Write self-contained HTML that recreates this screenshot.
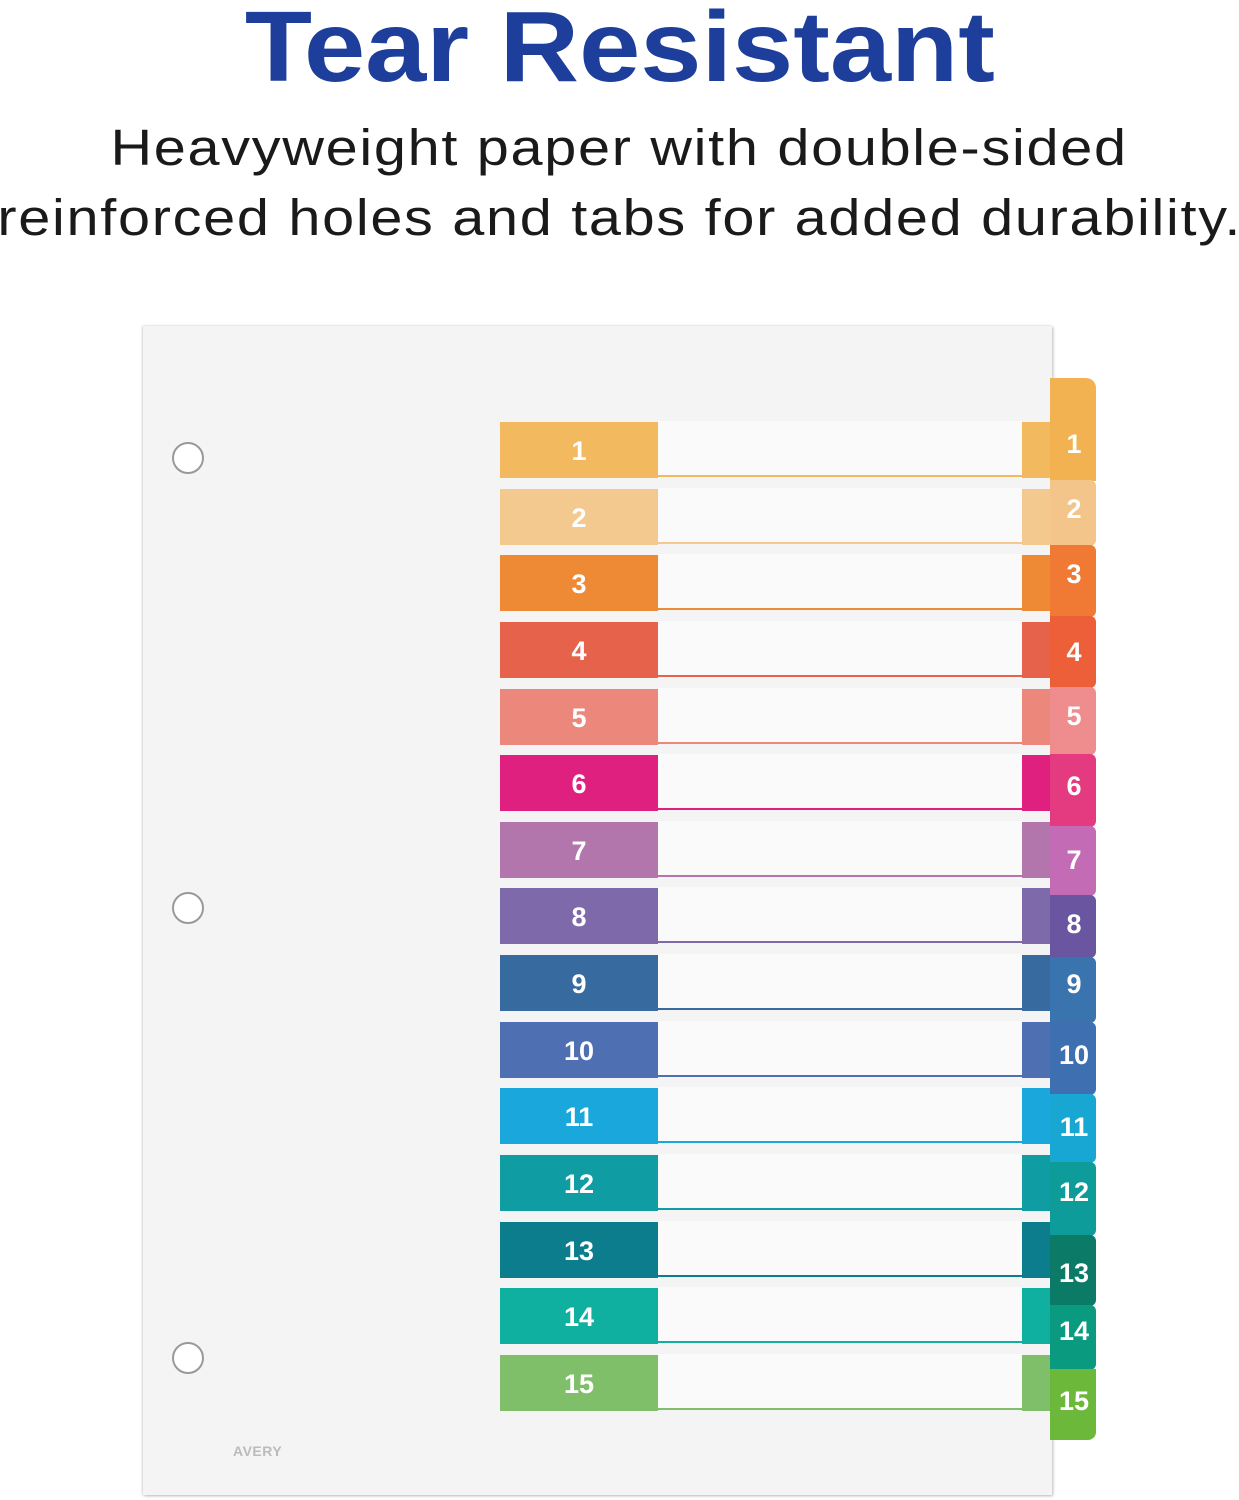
<!DOCTYPE html>
<html><head><meta charset="utf-8"><style>
body{margin:0;width:1239px;height:1500px;background:#fff;position:relative;overflow:hidden;font-family:"Liberation Sans",sans-serif}
.t{position:absolute;left:0;width:1239px;text-align:center;white-space:nowrap}
.t span{display:inline-block}
#title{top:-10px;font-size:100px;font-weight:bold;color:#1d3e9a}
#title span{transform:scaleX(1.1)}
.sub{font-size:51px;color:#1a1a1a;letter-spacing:1.5px}
.sub span{transform:scaleX(1.13)}
#page{position:absolute;left:143px;top:326px;width:909px;height:1169px;background:#f4f4f4;box-shadow:1px 1px 3px #bbb, -1px 0 2px #ddd}
.hole{position:absolute;left:172px;width:32px;height:32px;border-radius:50%;background:#fff;border:2px solid #999;box-sizing:border-box}
.blk{position:absolute;left:500px;width:158px;height:56px;color:#fff;font-weight:bold;font-size:27px;text-align:center;line-height:58px}
.ln{position:absolute;left:658px;width:364px;height:54px;background:#fafafa;border-bottom:2px solid}
.rb{position:absolute;left:1022px;width:28px;height:56px}
.tab{position:absolute;left:1050px;width:46px;border-radius:0 6px 6px 0}
.tn{position:absolute;left:1050px;width:48px;height:32px;line-height:32px;color:#fff;font-weight:bold;font-size:27px;text-align:center}
</style></head><body>
<div class="t" id="title"><span>Tear Resistant</span></div>
<div class="t sub" style="top:118px"><span>Heavyweight paper with double-sided</span></div>
<div class="t sub" style="top:188px"><span>reinforced holes and tabs for added durability.</span></div>
<div id="page"></div>
<div class="hole" style="top:442px"></div>
<div class="hole" style="top:892px"></div>
<div class="hole" style="top:1342px"></div>
<div style="position:absolute;left:233px;top:1443px;font-size:14px;color:#bbb;font-weight:bold;letter-spacing:0.5px">AVERY</div>

<div class="ln" style="top:421px;border-color:#f2b95e"></div><div class="blk" style="top:422px;background:#f2b95e">1</div><div class="rb" style="top:422px;background:#f2b95e"></div>
<div class="ln" style="top:488px;border-color:#f4c98f"></div><div class="blk" style="top:489px;background:#f4c98f">2</div><div class="rb" style="top:489px;background:#f4c98f"></div>
<div class="ln" style="top:554px;border-color:#ee8a36"></div><div class="blk" style="top:555px;background:#ee8a36">3</div><div class="rb" style="top:555px;background:#ee8a36"></div>
<div class="ln" style="top:621px;border-color:#e6624a"></div><div class="blk" style="top:622px;background:#e6624a">4</div><div class="rb" style="top:622px;background:#e6624a"></div>
<div class="ln" style="top:688px;border-color:#ec877b"></div><div class="blk" style="top:689px;background:#ec877b">5</div><div class="rb" style="top:689px;background:#ec877b"></div>
<div class="ln" style="top:754px;border-color:#e0207f"></div><div class="blk" style="top:755px;background:#e0207f">6</div><div class="rb" style="top:755px;background:#e0207f"></div>
<div class="ln" style="top:821px;border-color:#b276ac"></div><div class="blk" style="top:822px;background:#b276ac">7</div><div class="rb" style="top:822px;background:#b276ac"></div>
<div class="ln" style="top:887px;border-color:#7e69ab"></div><div class="blk" style="top:888px;background:#7e69ab">8</div><div class="rb" style="top:888px;background:#7e69ab"></div>
<div class="ln" style="top:954px;border-color:#376a9f"></div><div class="blk" style="top:955px;background:#376a9f">9</div><div class="rb" style="top:955px;background:#376a9f"></div>
<div class="ln" style="top:1021px;border-color:#4f6fb3"></div><div class="blk" style="top:1022px;background:#4f6fb3">10</div><div class="rb" style="top:1022px;background:#4f6fb3"></div>
<div class="ln" style="top:1087px;border-color:#1aa8dc"></div><div class="blk" style="top:1088px;background:#1aa8dc">11</div><div class="rb" style="top:1088px;background:#1aa8dc"></div>
<div class="ln" style="top:1154px;border-color:#0f9ca3"></div><div class="blk" style="top:1155px;background:#0f9ca3">12</div><div class="rb" style="top:1155px;background:#0f9ca3"></div>
<div class="ln" style="top:1221px;border-color:#0c7d8c"></div><div class="blk" style="top:1222px;background:#0c7d8c">13</div><div class="rb" style="top:1222px;background:#0c7d8c"></div>
<div class="ln" style="top:1287px;border-color:#10b0a0"></div><div class="blk" style="top:1288px;background:#10b0a0">14</div><div class="rb" style="top:1288px;background:#10b0a0"></div>
<div class="ln" style="top:1354px;border-color:#80bf6a"></div><div class="blk" style="top:1355px;background:#80bf6a">15</div><div class="rb" style="top:1355px;background:#80bf6a"></div>

<div class="tab" style="top:378px;height:103px;background:#f2b251;border-radius:0 10px 0 0"></div>
<div class="tab" style="top:480px;height:66px;background:#f3c58a"></div>
<div class="tab" style="top:545px;height:72px;background:#f07a34"></div>
<div class="tab" style="top:616px;height:72px;background:#ec5f38"></div>
<div class="tab" style="top:687px;height:68px;background:#ee8c8e"></div>
<div class="tab" style="top:754px;height:73px;background:#e43a80"></div>
<div class="tab" style="top:826px;height:70px;background:#c46bb6"></div>
<div class="tab" style="top:895px;height:63px;background:#6a55a0"></div>
<div class="tab" style="top:957px;height:66px;background:#3a74ae"></div>
<div class="tab" style="top:1022px;height:73px;background:#3e6fb1"></div>
<div class="tab" style="top:1094px;height:69px;background:#18a6d2"></div>
<div class="tab" style="top:1162px;height:74px;background:#0d9c9a"></div>
<div class="tab" style="top:1235px;height:71px;background:#0b7a66"></div>
<div class="tab" style="top:1305px;height:65px;background:#0a9a80"></div>
<div class="tab" style="top:1369px;height:71px;background:#6cb83a;border-radius:0 0 8px 0"></div>

<div class="tn" style="top:428px">1</div>
<div class="tn" style="top:493px">2</div>
<div class="tn" style="top:558px">3</div>
<div class="tn" style="top:636px">4</div>
<div class="tn" style="top:700px">5</div>
<div class="tn" style="top:770px">6</div>
<div class="tn" style="top:844px">7</div>
<div class="tn" style="top:908px">8</div>
<div class="tn" style="top:968px">9</div>
<div class="tn" style="top:1039px">10</div>
<div class="tn" style="top:1111px">11</div>
<div class="tn" style="top:1176px">12</div>
<div class="tn" style="top:1257px">13</div>
<div class="tn" style="top:1315px">14</div>
<div class="tn" style="top:1385px">15</div>
</body></html>
